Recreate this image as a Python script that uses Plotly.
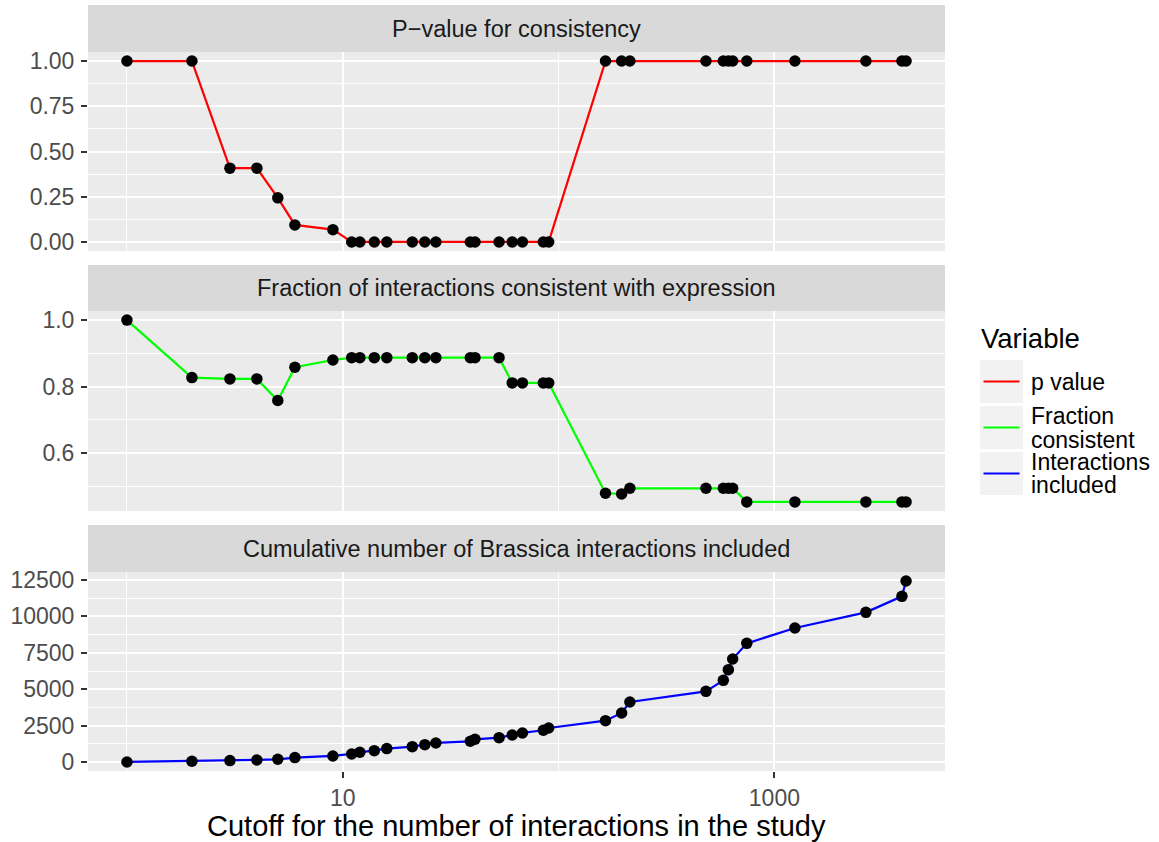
import math
import plotly.graph_objects as go
from plotly.subplots import make_subplots

# ---------------- data ----------------
cutoff = [1, 2, 3, 4, 5, 6, 9, 11, 12, 14, 16, 21, 24, 27, 39, 41, 53, 61, 68, 85, 90,
          165, 196, 214, 482, 580, 612, 641, 745, 1245, 2655, 3900, 4075]
p_value = [1.0, 1.0, 0.408, 0.408, 0.244, 0.094, 0.068,
           0, 0, 0, 0, 0, 0, 0, 0, 0, 0, 0, 0, 0, 0,
           1, 1, 1, 1, 1, 1, 1, 1, 1, 1, 1, 1]
fraction = [1.0, 0.827, 0.823, 0.823, 0.758, 0.858, 0.880,
            0.887, 0.887, 0.887, 0.887, 0.887, 0.887, 0.887, 0.887, 0.887, 0.887,
            0.811, 0.811, 0.811, 0.811,
            0.479, 0.477, 0.494, 0.494, 0.494, 0.494, 0.494,
            0.453, 0.453, 0.453, 0.453, 0.453]
cumulative = [0, 46, 92, 137, 183, 298, 412, 549, 664, 778, 916, 1053, 1190, 1305, 1419,
              1557, 1671, 1854, 1992, 2175, 2335, 2839, 3365, 4121, 4853, 5609, 6342,
              7074, 8150, 9203, 10279, 11378, 12431]

panel_titles = ["P\u2212value for consistency",
                "Fraction of interactions consistent with expression",
                "Cumulative number of Brassica interactions included"]
legend_title = "Variable"
legend_labels = [["p value"], ["Fraction", "consistent"], ["Interactions", "included"]]
series_colors = ["#FF0000", "#00FF00", "#0000FF"]
x_title = "Cutoff for the number of interactions in the study"

x_ticks = [10, 1000]
x_minor = [1, 100]
y_ticks = [[0, 0.25, 0.5, 0.75, 1.0], [0.6, 0.8, 1.0], [0, 2500, 5000, 7500, 10000, 12500]]
y_ticktext = [["0.00", "0.25", "0.50", "0.75", "1.00"], ["0.6", "0.8", "1.0"],
              ["0", "2500", "5000", "7500", "10000", "12500"]]
y_minor = [[0.125, 0.375, 0.625, 0.875], [0.5, 0.7, 0.9],
           [1250, 3750, 6250, 8750, 11250]]

# ---------------- layout geometry (pixels) ----------------
W, H = 1159, 842
L, R, T, B = 88, 214, 5, 71
PW = W - L - R
PH = H - T - B
FONT = "Liberation Sans, Arial, Helvetica, sans-serif"


def px2x(px):
    return (px - L) / PW


def py2y(py):
    return (H - B - py) / PH


panels = [(52, 251), (311, 511), (572, 771)]
strips = [(5, 52), (265, 311), (525, 572)]

fig = make_subplots(rows=3, cols=1, shared_xaxes=True)

series = [p_value, fraction, cumulative]
lx = [math.log10(v) for v in cutoff]
xspan = max(lx) - min(lx)
xrange = [min(lx) - 0.05 * xspan, max(lx) + 0.05 * xspan]

for i, ys in enumerate(series):
    fig.add_trace(go.Scatter(x=cutoff, y=ys, mode="lines",
                             line=dict(color=series_colors[i], width=2.2),
                             showlegend=False, hoverinfo="skip"), row=i + 1, col=1)
    fig.add_trace(go.Scatter(x=cutoff, y=ys, mode="markers",
                             marker=dict(color="black", size=11.5),
                             showlegend=False), row=i + 1, col=1)
    lo, hi = min(ys), max(ys)
    sp = hi - lo
    top, bot = panels[i]
    fig.update_yaxes(row=i + 1, col=1,
                     domain=[py2y(bot), py2y(top)],
                     range=[lo - 0.05 * sp, hi + 0.05 * sp],
                     tickmode="array", tickvals=y_ticks[i], ticktext=y_ticktext[i],
                     showgrid=True, gridcolor="white", gridwidth=2,
                     minor=dict(tickmode="array", tickvals=y_minor[i], showgrid=True,
                                gridcolor="white", gridwidth=1, ticks=""),
                     ticks="outside", ticklen=6, tickwidth=2, tickcolor="#333333",
                     ticklabelstandoff=2,
                     tickfont=dict(family=FONT, size=23, color="#4D4D4D"),
                     zeroline=False, showline=False, automargin=False)
    fig.update_xaxes(row=i + 1, col=1, type="log", range=xrange,
                     tickmode="array", tickvals=x_ticks,
                     ticktext=[str(v) for v in x_ticks],
                     showgrid=True, gridcolor="white", gridwidth=2,
                     minor=dict(tickmode="array", tickvals=x_minor, showgrid=True,
                                gridcolor="white", gridwidth=1, ticks=""),
                     ticks="outside" if i == 2 else "",
                     ticklen=6, tickwidth=2, tickcolor="#333333",
                     showticklabels=(i == 2),
                     tickfont=dict(family=FONT, size=23, color="#4D4D4D"),
                     zeroline=False, showline=False, automargin=False)

shapes = []
annotations = []
for i, (s0, s1) in enumerate(strips):
    shapes.append(dict(type="rect", xref="paper", yref="paper", x0=0, x1=1,
                       y0=py2y(s1), y1=py2y(s0), fillcolor="#D9D9D9",
                       line=dict(width=0), layer="below"))
    annotations.append(dict(text=panel_titles[i], xref="paper", yref="paper",
                            x=0.5, y=py2y((s0 + s1) / 2), xanchor="center",
                            yanchor="middle", showarrow=False,
                            font=dict(family=FONT, size=23.5, color="#1A1A1A")))

# x-axis title
annotations.append(dict(text=x_title, xref="paper", yref="paper", x=0.5,
                        y=py2y(826), xanchor="center", yanchor="middle",
                        showarrow=False, font=dict(family=FONT, size=29, color="black")))

# manual legend (ggplot style)
annotations.append(dict(text=legend_title, xref="paper", yref="paper",
                        x=px2x(979), y=py2y(338), xanchor="left", yanchor="middle",
                        showarrow=False, font=dict(family=FONT, size=27.5, color="black")))
key_tops = [360, 406, 452]
for i, kt in enumerate(key_tops):
    shapes.append(dict(type="rect", xref="paper", yref="paper",
                       x0=px2x(980), x1=px2x(1023), y0=py2y(kt + 43), y1=py2y(kt),
                       fillcolor="#F2F2F2", line=dict(width=0)))
    cy = kt + 21.5
    shapes.append(dict(type="line", xref="paper", yref="paper",
                       x0=px2x(983.5), x1=px2x(1019.5), y0=py2y(cy), y1=py2y(cy),
                       line=dict(color=series_colors[i], width=2.2)))
    lines = legend_labels[i]
    n = len(lines)
    for j, t in enumerate(lines):
        ly = cy + (j - (n - 1) / 2) * 24
        annotations.append(dict(text=t, xref="paper", yref="paper",
                                x=px2x(1029), y=py2y(ly), xanchor="left",
                                yanchor="middle", showarrow=False,
                                font=dict(family=FONT, size=23, color="black")))

fig.update_layout(width=W, height=H, margin=dict(l=L, r=R, t=T, b=B, autoexpand=False),
                  paper_bgcolor="white", plot_bgcolor="#EBEBEB",
                  shapes=shapes, annotations=annotations, showlegend=False,
                  font=dict(family=FONT))

fig.write_html("out.html")
